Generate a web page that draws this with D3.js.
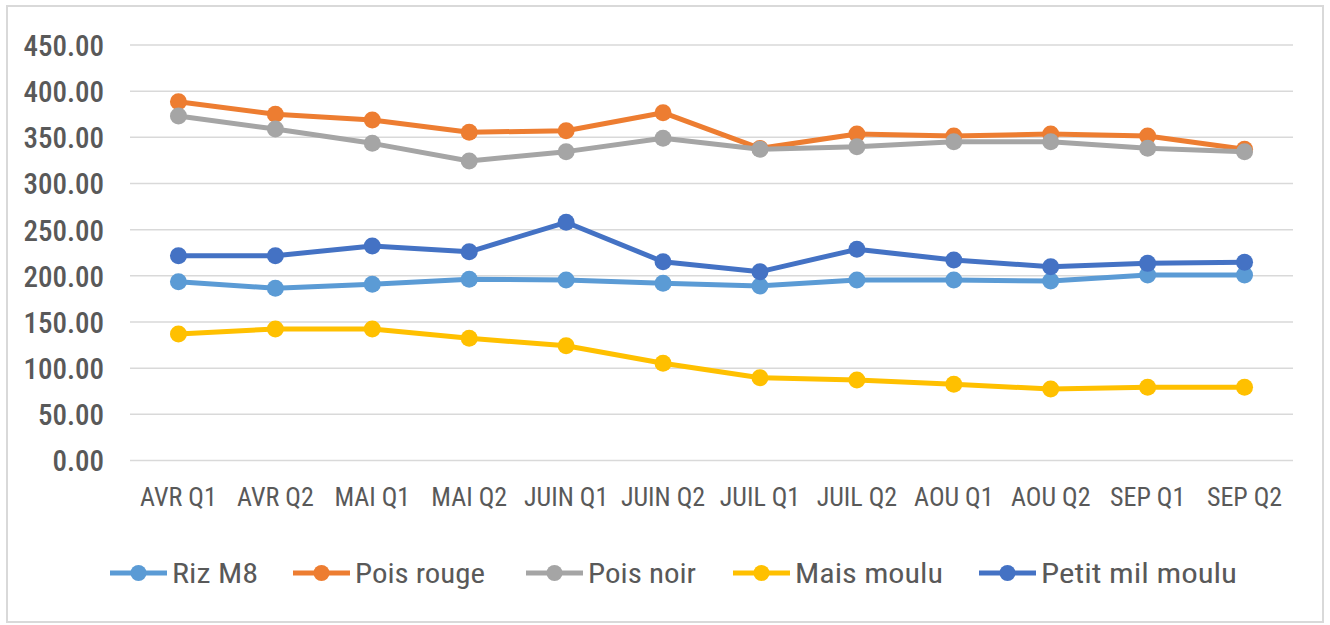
<!DOCTYPE html>
<html><head><meta charset="utf-8">
<script src="https://cdn.jsdelivr.net/npm/d3@7"></script>
<style>
html,body{margin:0;padding:0;background:#fff;}
svg{display:block;}
text{font-family:"Liberation Sans Narrow","Roboto Condensed","Liberation Sans",Arial,sans-serif;fill:#595959;}
</style></head>
<body>
<svg id="chart" width="1330" height="625"></svg>
<script>
const categories = ["AVR Q1","AVR Q2","MAI Q1","MAI Q2","JUIN Q1","JUIN Q2","JUIL Q1","JUIL Q2","AOU Q1","AOU Q2","SEP Q1","SEP Q2"];
const seriesNames = ["Riz M8","Pois rouge","Pois noir","Mais moulu","Petit mil moulu"];
const rizM8 = [193.6,186.5,190.8,196.2,195.5,192.0,189.0,195.5,195.5,194.4,201.0,201.0];
const poisRouge = [388.6,375.0,368.8,355.5,357.2,376.7,338.0,353.6,351.4,353.6,351.4,337.0];
const poisNoir = [373.1,359.0,343.5,324.4,334.5,349.0,337.0,339.9,345.3,345.3,338.1,334.5];
const maisMoulu = [137.0,142.4,142.4,132.3,124.3,105.3,89.7,87.2,82.5,77.4,79.3,79.3];
const petitMil = [221.8,221.8,232.3,226.0,258.0,215.3,204.5,228.7,217.2,209.9,213.5,214.6];
const yTicks = [0,50,100,150,200,250,300,350,400,450];
const colors = ["#5B9BD5","#ED7D31","#A5A5A5","#FFC000","#4472C4"];

const seriesValues = [rizM8, poisRouge, poisNoir, maisMoulu, petitMil];
const svg = d3.select("#chart");

// outer border
svg.append("rect").attr("x",7).attr("y",6).attr("width",1316).attr("height",616)
  .attr("fill","none").attr("stroke","#d9d9d9").attr("stroke-width",2);

const x = d3.scaleBand().domain(categories).range([130,1293]);
const y = d3.scaleLinear().domain([0,450]).range([460.5,45]);

// gridlines
svg.append("g").selectAll("line").data(yTicks).join("line")
  .attr("x1",130).attr("x2",1293)
  .attr("y1",d=>y(d)).attr("y2",d=>y(d))
  .attr("stroke","#d9d9d9").attr("stroke-width",1.5);

// y axis
const yAxis = svg.append("g").attr("transform","translate(104,0)")
  .call(d3.axisLeft(y).tickValues(yTicks).tickFormat(d3.format(".2f")).tickSize(0).tickPadding(0));
yAxis.select(".domain").remove();
yAxis.selectAll("text").style("font-size","29px").style("font-weight","500").attr("fill","#595959").attr("dy","0.36em");

// x axis
const xAxis = svg.append("g").attr("transform","translate(0,460.5)")
  .call(d3.axisBottom(x).tickSize(0).tickPadding(27));
xAxis.select(".domain").remove();
xAxis.selectAll("text").style("font-size","26px").attr("fill","#595959");

// lines
const line = d3.line().x((d,i)=>x(categories[i])+x.bandwidth()/2).y(d=>y(d));
seriesValues.forEach((vals,si)=>{
  const g = svg.append("g");
  g.append("path").datum(vals).attr("d",line).attr("fill","none")
    .attr("stroke",colors[si]).attr("stroke-width",5).attr("stroke-linejoin","round");
  g.selectAll("circle").data(vals).join("circle")
    .attr("cx",(d,i)=>x(categories[i])+x.bandwidth()/2).attr("cy",d=>y(d))
    .attr("r",8.5).attr("fill",colors[si]);
});

// legend
const legendX = [110,293,526,733,979];
const legendTextW = [86,130,108,148,196];
const lg = svg.append("g");
seriesNames.forEach((name,i)=>{
  const g = lg.append("g").attr("transform",`translate(${legendX[i]},573)`);
  g.append("line").attr("x1",0).attr("x2",57).attr("y1",0).attr("y2",0)
    .attr("stroke",colors[i]).attr("stroke-width",5);
  g.append("circle").attr("cx",28.5).attr("cy",0).attr("r",8).attr("fill",colors[i]);
  g.append("text").attr("x",62).attr("y",0).attr("dy","0.35em")
    .style("font-size","28px").attr("textLength",legendTextW[i]).attr("lengthAdjust","spacingAndGlyphs")
    .text(name);
});
</script>
</body></html>
